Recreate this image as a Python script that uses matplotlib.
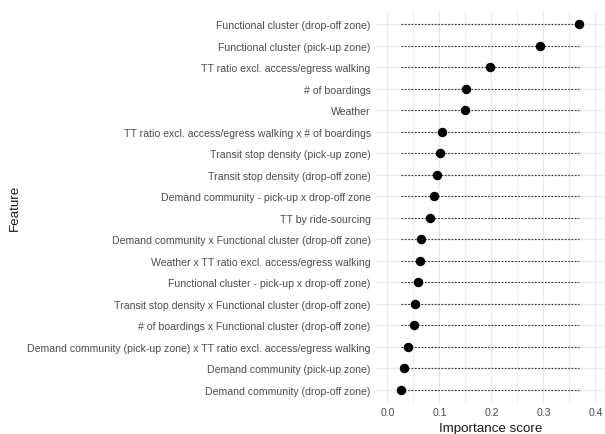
import matplotlib
matplotlib.use('Agg')
import matplotlib.pyplot as plt
import numpy as np

# features ordered top to bottom
features = [
    'Functional cluster (drop-off zone)',
    'Functional cluster (pick-up zone)',
    'TT ratio excl. access/egress walking',
    '# of boardings',
    'Weather',
    'TT ratio excl. access/egress walking x # of boardings',
    'Transit stop density (pick-up zone)',
    'Transit stop density (drop-off zone)',
    'Demand community - pick-up x drop-off zone',
    'TT by ride-sourcing',
    'Demand community x Functional cluster (drop-off zone)',
    'Weather x TT ratio excl. access/egress walking',
    'Functional cluster - pick-up x drop-off zone)',
    'Transit stop density x Functional cluster (drop-off zone)',
    '# of boardings x Functional cluster (drop-off zone)',
    'Demand community (pick-up zone) x TT ratio excl. access/egress walking',
    'Demand community (pick-up zone)',
    'Demand community (drop-off zone)',
]
importance = [0.368, 0.293, 0.198, 0.151, 0.149, 0.105, 0.101, 0.095, 0.089,
              0.082, 0.064, 0.062, 0.058, 0.053, 0.051, 0.040, 0.031, 0.027]
x_ticks = [0.0, 0.1, 0.2, 0.3, 0.4]

plt.rcParams['font.family'] = ['Liberation Sans', 'DejaVu Sans']

W, H = 605, 435
fig = plt.figure(figsize=(W / 100, H / 100), dpi=100)
ax = fig.add_axes([377 / W, 1 - 403.7 / H, 228.8 / W, (403.7 - 12.4) / H])

y = np.arange(1, len(features) + 1)
lo, hi = min(importance), max(importance)

# grid lines
for t in np.arange(-0.0, 0.45, 0.05):
    ax.axvline(t, color='#EBEBEB', lw=0.9 if round(t * 100) % 10 == 0 else 0.6, zorder=0)
for yy in y:
    ax.axhline(yy, color='#EBEBEB', lw=0.9, zorder=0)

ax.hlines(y, lo, hi, colors='#3A3A3A', linestyles=(0, (1.6, 1.4)), lw=0.8, zorder=1)
ax.plot(importance, y, 'o', color='black', ms=5.8, zorder=2)

ax.set_xlim(-0.02, 0.42)
ax.set_ylim(len(features) + 0.6, 0.4)
ax.set_xticks(x_ticks)
ax.set_xticklabels(['%.1f' % t for t in x_ticks])
ax.set_yticks(y)
ax.set_yticklabels(features)
ax.tick_params(length=0, labelsize=7.6, labelcolor='#4D4D4D')
ax.tick_params(axis='y', pad=4.5)
ax.tick_params(axis='x', pad=3)
for s in ax.spines.values():
    s.set_visible(False)

fig.text(491 / W, 1 - 429 / H, 'Importance score', ha='center', va='center',
         fontsize=9.6, color='#1A1A1A')
fig.text(15 / W, 1 - 208 / H, 'Feature', ha='center', va='center',
         rotation=90, fontsize=9.6, color='#1A1A1A')

fig.savefig('out.png', dpi=100)
